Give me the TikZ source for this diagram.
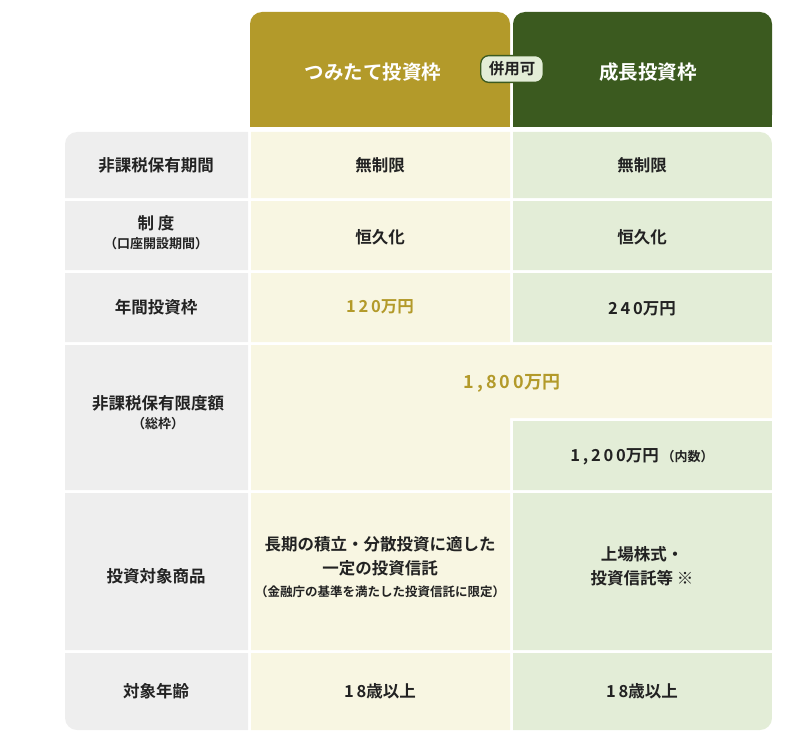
\documentclass[tikz,border=0pt]{standalone}
\usepackage{fontspec}
\setmainfont{Noto Sans CJK JP}[BoldFont={Noto Sans CJK JP Bold}]
\definecolor{gold}{HTML}{B39A2A}
\definecolor{forest}{HTML}{3B5A1F}
\definecolor{cream}{HTML}{F8F6E2}
\definecolor{sage}{HTML}{E3EDD7}
\definecolor{stone}{HTML}{EEEEEE}
\definecolor{ink}{HTML}{222222}
\begin{document}
\begin{tikzpicture}[x=1pt, y=-1pt,
    cell/.style={inner sep=0pt, outer sep=0pt, font=\fontsize{16.5}{24}\selectfont\bfseries, text=ink, align=center},
    head/.style={font=\fontsize{19.5}{24}\selectfont\bfseries, text=white},
    small/.style={font=\fontsize{12.5}{15}\selectfont\bfseries, text=ink}
]
    \useasboundingbox (0,0) rectangle (800,741);
    % Column heads
    \fill[gold, rounded corners=12pt] (250,127) -- (250,12) -- (510,12) -- (510,127) -- cycle;
    \fill[forest, rounded corners=12pt] (513,127) -- (513,12) -- (772,12) -- (772,127) -- cycle;
    \fill[gold] (250,100) rectangle (510,127);
    \fill[forest] (513,100) rectangle (772,127);
    \node[head] (hT) at (373,72) {つみたて投資枠};
    \node[head] (hG) at (648,72) {成長投資枠};
    \node[draw=forest, line width=1.3pt, fill=sage, rounded corners=8pt, font=\fontsize{15.5}{18}\selectfont\bfseries, text=ink, inner xsep=8pt, inner ysep=6pt] (both) at (512,69) {併用可};

    % Body
    \begin{scope}
    \clip[rounded corners=12pt] (65,132) rectangle (772,730);
    \fill[stone] (65,132) rectangle (248,198) (65,201) rectangle (248,270) (65,273) rectangle (248,342)
        (65,345) rectangle (248,490) (65,493) rectangle (248,650) (65,653) rectangle (248,730);
    \fill[cream] (251,132) rectangle (510,198) (251,201) rectangle (510,270) (251,273) rectangle (510,342)
        (251,345) rectangle (772,418) (251,418) rectangle (510,490) (251,493) rectangle (510,650) (251,653) rectangle (510,730);
    \fill[sage] (513,132) rectangle (772,198) (513,201) rectangle (772,270) (513,273) rectangle (772,342)
        (513,421) rectangle (772,490) (513,493) rectangle (772,650) (513,653) rectangle (772,730);
    \end{scope}

    % Row labels
    \node[cell] (l1) at (156,165) {非課税保有期間};
    \node[cell] (l2) at (156,233) {制 度\\[-5pt]{\fontsize{13}{15}\selectfont（口座開設期間）}};
    \node[cell] (l3) at (156,307) {年間投資枠};
    \node[cell] (l4) at (158,413) {非課税保有限度額\\[-5pt]{\fontsize{13}{15}\selectfont（総枠）}};
    \node[cell] (l5) at (156,576) {投資対象商品};
    \node[cell] (l6) at (156,691) {対象年齢};

    % Tsumitate column
    \node[cell] (t1) at (380,165) {無制限};
    \node[cell] (t2) at (380,237) {恒久化};
    \node[cell, text=gold] (t3) at (380,307) {1\,2\,0万円};
    \node[cell] (t5) at (380,556) {長期の積立・分散投資に適した\\一定の投資信託};
    \node[small] (t5n) at (380,592) {（金融庁の基準を満たした投資信託に限定）};
    \node[cell] (t6) at (380,691) {1\,8歳以上};

    % Growth column
    \node[cell] (g1) at (642,165) {無制限};
    \node[cell] (g2) at (642,237) {恒久化};
    \node[cell] (g3) at (642,309) {2\,4\,0万円};
    \node[cell] (g4) at (642,457) {1\,,\,2\,0\,0万円\,{\fontsize{13}{15}\selectfont（内数）}};
    \node[cell] (g5) at (642,566) {上場株式・\\投資信託等 ※};
    \node[cell] (g6) at (642,691) {1\,8歳以上};

    % Shared limit
    \node[cell, text=gold, font=\fontsize{18}{22}\selectfont\bfseries] (all) at (512,383) {1\,,\,8\,0\,0万円};
\end{tikzpicture}
\end{document}
